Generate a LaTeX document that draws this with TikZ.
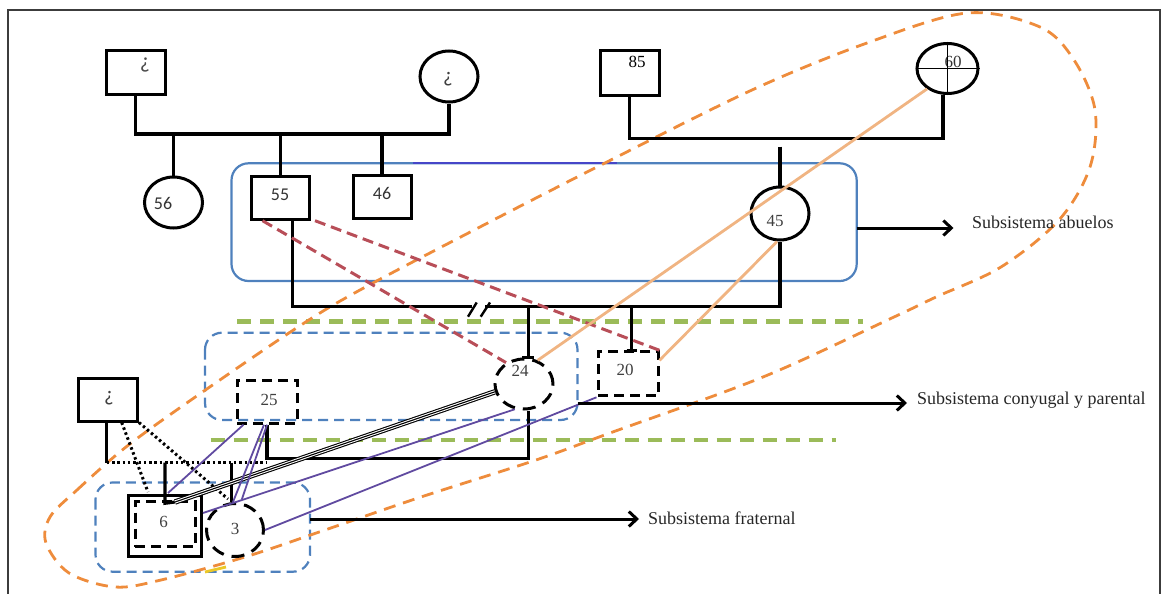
\documentclass[tikz,border=0pt]{standalone}
\usepackage{fontspec}
\setmainfont{Liberation Serif}
\newfontfamily\califont{Carlito}
\usetikzlibrary{shapes.geometric,arrows.meta,calc}
\definecolor{frameg}{RGB}{60,60,60}
\definecolor{bluebox}{RGB}{79,129,189}
\definecolor{bluedark}{RGB}{70,70,200}
\definecolor{redd}{RGB}{184,78,88}
\definecolor{orsolid}{RGB}{240,180,130}
\definecolor{ordash}{RGB}{238,140,60}
\definecolor{greend}{RGB}{155,187,89}
\definecolor{purp}{RGB}{96,74,160}
\definecolor{yel}{RGB}{235,200,40}
\begin{document}
\begin{tikzpicture}[x=1pt,y=-1pt,
  ped/.style={line width=3.1pt},
  pbox/.style={draw, line width=3pt, rectangle, inner sep=0pt},
  pcirc/.style={draw, line width=3pt, ellipse, inner sep=0pt},
  dsh/.style={dash pattern=on 10pt off 6pt},
  dshc/.style={dash pattern=on 13pt off 8pt},
  num/.style={font=\fontsize{17}{20}\selectfont, text=black!75, inner sep=0pt},
  cnum/.style={font=\califont\fontsize{18}{21}\selectfont, text=black!80, inner sep=0pt},
  qmark/.style={font=\califont\fontsize{21}{24}\selectfont, text=black!75, inner sep=0pt},
  sub/.style={font=\fontsize{18}{21}\selectfont, text=black!85, anchor=west, inner sep=0pt},
  bluer/.style={draw=bluebox, line width=2.2pt, rounded corners=17pt},
  greenl/.style={draw=greend, line width=4.5pt, dash pattern=on 14pt off 9pt},
  redl/.style={draw=redd, line width=3pt, dash pattern=on 11pt off 6pt},
  orl/.style={draw=orsolid, line width=2.8pt},
  purl/.style={draw=purp, line width=1.8pt},
  dotl/.style={line width=3pt, dash pattern=on 2.5pt off 2.8pt},
  triple/.style={line width=5.4pt, draw=black, postaction={draw=white, line width=3.2pt}, postaction={draw=black, line width=1.1pt}},
  arr/.style={line width=3pt, -{Straight Barb[length=8pt,width=15pt,line width=3pt]}}
]
\useasboundingbox (0,0) rectangle (1162,594);
% frame
\draw[frameg, line width=2pt] (8,600) -- (8,10) -- (1160,10) -- (1160,600);

% subsystem enclosures
\draw[bluer] (231.5,163.3) rectangle (856.7,281);
\draw[draw=bluedark, line width=2.2pt] (413,163.3) -- (617,163.3);
\draw[bluer, dsh] (205,332.7) rectangle (577.5,420);
\draw[bluer, dsh] (95.5,482.5) rectangle (310,571.7);
\draw[greenl] (237,321.7) -- (863,321.7);
\draw[greenl] (210.5,440) -- (836,440);
\draw[ordash, line width=2.8pt, dash pattern=on 12pt off 8pt]
  plot[smooth cycle, tension=0.55] coordinates {
  (50,517) (77,490) (126,447) (191,400) (298,327) (360,290) (478,228) (597,167) (752,90) (867,43) (967,13)
  (1040,27) (1074,60) (1095,110) (1090,167) (1059,220) (1001,267) (936,297) (894,317) (763,377)
  (610,433) (536,460) (421,497) (325,530) (245,557) (161,580) (115,587) (69,573) (46,543)};
\draw[yel, line width=2.8pt] (205,572) -- (226,567);

% persons
\node[pbox, minimum width=59pt, minimum height=43pt] (sqL) at (135.5,72.5) {};
\node[qmark, font=\califont\fontsize{22}{24}\selectfont, text=black!70] (tsqL) at (145,65) {¿};
\node[pcirc, minimum width=58pt, minimum height=51pt] (ciL) at (449,76.5) {};
\node[qmark] (tciL) at (448,79) {¿};
\node[pcirc, minimum width=58pt, minimum height=51pt] (c56) at (173.5,202.5) {};
\node[cnum] (t56) at (163,203) {56};
\node[pbox, minimum width=58pt, minimum height=43pt] (b55) at (280.5,197.7) {};
\node[cnum] (t55) at (280,195) {55};
\node[pbox, minimum width=58pt, minimum height=43pt] (b46) at (382,197) {};
\node[cnum] (t46) at (382,193) {46};
\node[pbox, minimum width=59pt, minimum height=44pt] (b85) at (629.5,73) {};
\node[num, text=black] (t85) at (637,62) {85};
\node[pcirc, minimum width=61pt, minimum height=50pt] (c60) at (947.5,68.5) {};
\node[num, text=black!80] (t60) at (953,62) {60};
\node[pcirc, minimum width=58pt, minimum height=53pt] (c45) at (780,213.5) {};
\node[num] (t45) at (775,221) {45};
\node[pcirc, dshc, minimum width=58pt, minimum height=50pt] (c24) at (524,384) {};
\node[num] (t24) at (520,371) {24};
\node[pbox, dsh, minimum width=60pt, minimum height=44pt] (b20) at (628,373.8) {};
\node[num] (t20) at (625,370) {20};
\node[pbox, dsh, minimum width=60pt, minimum height=43pt] (b25) at (267,401.7) {};
\node[num] (t25) at (269,400) {25};
\node[pbox, minimum width=59pt, minimum height=43pt] (sqQ) at (108,399.5) {};
\node[qmark] (tsqQ) at (109,398) {¿};
\node[pbox, minimum width=73pt, minimum height=61pt] (b6) at (165,526) {};
\node[pbox, dsh, minimum width=60pt, minimum height=45pt] (b6i) at (165,524.2) {};
\node[num] (t6) at (163.5,522) {6};
\node[pcirc, dshc, minimum width=57pt, minimum height=53pt] (c3) at (235,530) {};
\node[num] (t3) at (235,529) {3};

% cross in 60
\draw[line width=1pt] (c60.west) -- (c60.east);
\draw[line width=1pt] (c60.north) -- (c60.south);

% left grandparents
\coordinate (jL1) at (135.5,134);
\coordinate (jL2) at (449,134);
\draw[ped] (sqL.south) |- (jL2) -- (ciL.south);
\draw[ped] (c56.north |- jL1) -- (c56.north);
\draw[ped] (b55.north |- jL1) -- (b55.north);
\draw[ped] (b46.north |- jL1) -- (b46.north);

% right grandparents
\coordinate (jR2) at (943,138.5);
\draw[ped] (b85.south) |- (jR2) -- (jR2 |- c60.south);
\coordinate (jR3) at (780,146.7);
\draw[ped] (jR3) -- (c45.north);

% parents line with break
\coordinate (pL) at (292.5,306.7);
\coordinate (brkL) at (472,306.7);
\coordinate (brkR) at (485,306.7);
\coordinate (pR) at (780,306.7);
\draw[ped] (b55.south -| pL) -- (pL) -- (brkL);
\draw[ped] (brkR) -- (pR) -- (c45.south);
\draw[line width=2.4pt] (468,316.7) -- (476.7,302.5);
\draw[line width=2.4pt] (480.7,316.7) -- (490,302.5);
\coordinate (d24) at (528.3,306.7);
\draw[ped] (d24) -- (d24 |- c24.north);
\draw[line width=2.4pt] ($(d24 |- c24.north)+(-6,0)$) -- ($(d24 |- c24.north)+(6,0)$);
\coordinate (d20) at (631.7,306.7);
\draw[ped] (d20) -- (d20 |- b20.north);
\draw[line width=2.4pt] ($(d20 |- b20.north)+(-5,0)$) -- ($(d20 |- b20.north)+(5,0)$);

% 25 -- 24 union
\coordinate (j24b) at (528.3,458.5);
\draw[ped] (b25.south) |- (j24b) -- (j24b |- c24.south);

% lower left
\coordinate (jQ) at (106.7,462.5);
\draw[ped] (sqQ.south -| jQ) -- (jQ);
\draw[dotl] (jQ) -- (jQ -| b25.south);
\coordinate (k6) at (165,462.5);
\coordinate (k6b) at (165,503.3);
\coordinate (t6r) at (175,502);
\draw[ped] (k6) -- (k6b) -- (t6r);
\coordinate (k3) at (231.7,462.5);
\draw[ped] (k3) -- (k3 |- c3.north);
\draw[dotl] ($(sqQ.south)+(13.7,0)$) -- ($(b6.north west)+(21,-2)$);
\draw[dotl] (sqQ.south east) -- ($(c3.north)+(-7,-3)$);

% relation lines
\draw[redl] ($(b55.south west)+(12.5,0)$) -- (c24.130);
\draw[redl] ($(b55.south east)+(4,0)$) -- (b20.north east);
\draw[orl] (c60.225) -- (c24.60);
\draw[orl] ($(c45.south)+(-3,0)$) -- ($(b20.north east)+(0,10)$);
\draw[triple] (c24.195) -- (t6r);
\draw[purl] ($(b25.south west)+(8,0)$) -- ($(b6.north)+(3,-1)$);
\draw[purl] ($(b25.south)+(0,0)$) -- ($(c3.north)+(7,-3)$);
\draw[purl] ($(b25.south)+(-3,0)$) -- ($(c3.north)+(-2,0)$);
\draw[purl] (c24.250) -- ($(b6.east)+(0,-13)$);
\draw[purl] (b20.south west) -- (c3.east);

% arrows and captions
\draw[arr] (856.7,228) -- (953.5,228);
\node[sub] (sabu) at (972,222) {Subsistema abuelos};
\draw[arr] (577.5,403) -- (907,403);
\node[sub] (scon) at (917,400) {Subsistema conyugal y parental};
\draw[arr] (310,519) -- (639,519);
\node[sub] (sfra) at (648,518) {Subsistema fraternal};
\end{tikzpicture}
\end{document}
